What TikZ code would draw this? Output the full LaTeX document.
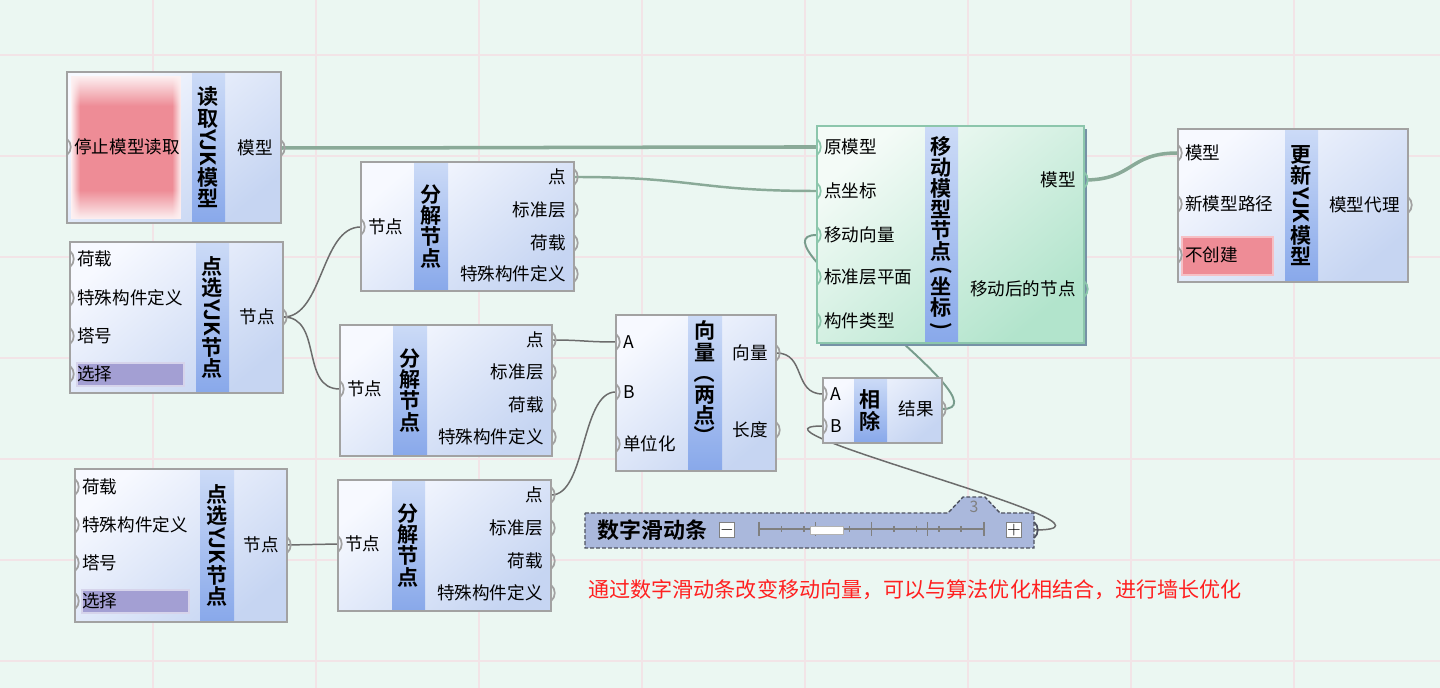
\documentclass[tikz,border=0pt]{standalone}
\usepackage{fontspec}
\setmainfont{Noto Sans CJK SC}[BoldFont={Noto Sans CJK SC Bold}]
\usepackage{graphicx}
\usetikzlibrary{fadings}

\definecolor{canvasc}{RGB}{235,247,242}
\definecolor{gridc}{RGB}{242,228,231}
\definecolor{boxln}{RGB}{162,162,162}
\definecolor{boxlt}{RGB}{247,249,255}
\definecolor{boxdk}{RGB}{198,213,242}
\definecolor{striptop}{RGB}{204,219,247}
\definecolor{stripbot}{RGB}{136,168,234}
\definecolor{grnln}{RGB}{140,198,172}
\definecolor{grnlt}{RGB}{244,251,247}
\definecolor{grndk}{RGB}{178,228,204}
\definecolor{grnshd}{RGB}{118,146,166}
\definecolor{btnred}{RGB}{238,140,150}
\definecolor{selfill}{RGB}{163,159,211}
\definecolor{wirec}{RGB}{108,108,108}
\definecolor{gwire}{RGB}{120,156,140}
\definecolor{modelw}{RGB}{138,170,152}
\definecolor{slfill}{RGB}{170,184,220}
\definecolor{slline}{RGB}{78,82,96}
\definecolor{notec}{RGB}{255,32,32}

\pgfdeclarelayer{bg}
\pgfdeclarelayer{wires}
\pgfsetlayers{bg,wires,main}

\tikzset{
  body/.style={top color=boxlt, bottom color=boxdk, shading angle=40},
  gbody/.style={top color=grnlt, bottom color=grndk, shading angle=40},
  strip/.style={top color=striptop, bottom color=stripbot},
  boxframe/.style={draw=boxln, line width=1.4pt},
  gframe/.style={draw=grnln, line width=1.4pt},
  grip/.style={draw=boxln, line width=1pt},
  socket/.style={inner sep=0pt, minimum size=0pt},
  plabel/.style={font=\fontsize{10}{12}\selectfont, inner sep=0pt},
  ttl/.style={font=\bfseries\fontsize{12}{12}\selectfont, align=center, inner sep=0pt},
  wire/.style={draw=wirec, line width=0.85pt},
  fatwire/.style={draw=modelw, line width=2pt},
  gridline/.style={draw=gridc, line width=0.7pt},
  glow/.style={fill=white!88!btnred},
  btn/.style={draw=btnred!55!white, line width=1pt, fill=btnred},
  selbox/.style={draw=selfill!45!white, line width=1pt, fill=selfill},
  sltick/.style={draw=gray, line width=0.6pt},
  slbtn/.style={draw=gray, fill=white, line width=0.6pt, minimum size=0.3cm, inner sep=0pt, font=\bfseries\fontsize{10}{10}\selectfont},
}

\newcommand\vrot[1]{\rotatebox[origin=c]{-90}{#1}}
% grips: name, x, y, text
\newcommand\inpin[4]{\node[socket] (#1) at (#2,#3) {};
  \draw[grip] (#2,#3-8) .. controls (#2+5,#3-4) and (#2+5,#3+4) .. (#2,#3+8);
  \node[plabel,anchor=west] (#1t) at (#2+7,#3) {#4};}
\newcommand\outpin[4]{\node[socket] (#1) at (#2,#3) {};
  \draw[grip] (#2,#3-8) .. controls (#2+5,#3-4) and (#2+5,#3+4) .. (#2,#3+8);
  \node[plabel,anchor=east] (#1t) at (#2-8,#3) {#4};}
% body: fill, frame, x1, y1, x2, y2, strip x1, strip x2
\newcommand\compbox[8]{\shade[#1] (#3,#4) rectangle (#5,#6);
  \shade[strip] (#7,#4) rectangle (#8,#6);
  \draw[#2] (#3,#4) rectangle (#5,#6);}

\begin{document}
\begin{tikzpicture}[x=0.02cm, y=-0.02cm]
\useasboundingbox (0,0) rectangle (1440,688);
\begin{pgfonlayer}{bg}
  \fill[canvasc] (0,0) rectangle (1440,688);
  \foreach \x in {-10,153,...,1457} \draw[gridline] (\x,0) -- (\x,688);
  \foreach \y in {55,156,...,661} \draw[gridline] (0,\y) -- (1440,\y);
\end{pgfonlayer}

% read model
\compbox{body}{boxframe}{67}{72}{281}{223}{192}{225}
\fill[btnred] (71,76) rectangle (181,219);
\fill[glow, path fading=south] (71,76) rectangle (181,106);
\fill[glow, path fading=north] (71,190) rectangle (181,219);
\fill[glow, path fading=east] (71,76) rectangle (80,219);
\fill[glow, path fading=west] (172,76) rectangle (181,219);
\node[ttl] (rd) at (208.5,147.5) {读\\取\\\vrot{YJK}\\模\\型};
\inpin{rdStop}{67}{147}{停止模型读取}
\outpin{rdM}{281}{148}{模型}

% pick nodes
\compbox{body}{boxframe}{70}{242}{283}{393}{196}{229}
\draw[selbox] (77,363) rectangle (184,386);
\node[ttl] (dx1) at (212.5,317.5) {点\\选\\\vrot{YJK}\\节\\点};
\foreach \y/\t/\n in {259/荷载/L, 298/特殊构件定义/D, 336/塔号/T, 374/选择/S}
  {\inpin{dx1\n}{70}{\y}{\t}}
\outpin{dx1N}{283}{317}{节点}

\compbox{body}{boxframe}{75}{469}{287}{622}{200}{234}
\draw[selbox] (82,590) rectangle (189,613);
\node[ttl] (dx2) at (217,545.5) {点\\选\\\vrot{YJK}\\节\\点};
\foreach \y/\t/\n in {487/荷载/L, 525/特殊构件定义/D, 563/塔号/T, 601/选择/S}
  {\inpin{dx2\n}{75}{\y}{\t}}
\outpin{dx2N}{287}{545}{节点}

% decompose nodes
\compbox{body}{boxframe}{361}{162}{574}{291}{414}{448}
\node[ttl] (fj1) at (431,226.5) {分\\解\\节\\点};
\inpin{fj1N}{361}{227}{节点}
\foreach \y/\t/\n in {177/点/P, 210/标准层/S, 243/荷载/L, 274/特殊构件定义/D}
  {\outpin{fj1\n}{574}{\y}{\t}}

\compbox{body}{boxframe}{340}{325}{552}{456}{393}{427}
\node[ttl] (fj2) at (410,390.5) {分\\解\\节\\点};
\inpin{fj2N}{340}{389}{节点}
\foreach \y/\t/\n in {340/点/P, 372/标准层/S, 405/荷载/L, 437/特殊构件定义/D}
  {\outpin{fj2\n}{552}{\y}{\t}}

\compbox{body}{boxframe}{338}{480}{551}{611}{392}{425}
\node[ttl] (fj3) at (408.5,545.5) {分\\解\\节\\点};
\inpin{fj3N}{338}{544}{节点}
\foreach \y/\t/\n in {495/点/P, 528/标准层/S, 561/荷载/L, 593/特殊构件定义/D}
  {\outpin{fj3\n}{551}{\y}{\t}}

% vector two points
\compbox{body}{boxframe}{616}{315}{776}{471}{688}{722}
\node[ttl] (vec) at (705,384) {向\\量\\\vrot{（}\\两\\点\\\vrot{）}};
\inpin{vecA}{616}{342}{A}
\inpin{vecB}{616}{392}{B}
\inpin{vecU}{616}{444}{单位化}
\outpin{vecV}{776}{353}{向量}
\outpin{vecL}{776}{430}{长度}

% divide
\compbox{body}{boxframe}{823}{378}{942}{443}{854}{887}
\node[ttl] (div) at (870.5,410.5) {相\\除};
\inpin{divA}{823}{394}{A}
\inpin{divB}{823}{426}{B}
\outpin{divR}{942}{409}{结果}

% move model nodes
\fill[grnshd] (820,129) rectangle (1087,346);
\compbox{gbody}{gframe}{817}{126}{1084}{343}{925}{958}
\node[ttl] (mv) at (941.5,235) {移\\动\\模\\型\\节\\点\\[-2pt]\vrot{(}\\[-2pt]坐\\标\\[-2pt]\vrot{)}};
\begin{scope}[grip/.style={draw=grnln, line width=1pt}]
\foreach \y/\t/\n in {147/原模型/A, 191/点坐标/B, 235/移动向量/C, 277/标准层平面/D, 321/构件类型/E}
  {\inpin{mv\n}{817}{\y}{\t}}
\outpin{mvM}{1084}{180}{模型}
\outpin{mvN}{1084}{289}{移动后的节点}
\end{scope}

% update model
\compbox{body}{boxframe}{1178}{129}{1408}{282}{1285}{1318}
\draw[btn] (1182,237) rectangle (1273,275);
\node[ttl] (up) at (1301.5,205.5) {更\\新\\\vrot{YJK}\\模\\型};
\inpin{upM}{1178}{153}{模型}
\inpin{upP}{1178}{204}{新模型路径}
\inpin{upC}{1178}{255}{不创建}
\outpin{upA}{1408}{205}{模型代理}

% number slider
\draw[fill=slfill, draw=slline, line width=0.8pt, dash pattern=on 2.2pt off 1.2pt]
  (585,513) -- (948,513) -- (963,497) -- (985,497) -- (1000,513) -- (1034,513)
  -- (1034,548) -- (585,548) -- cycle;
\node[font=\fontsize{9}{9}\selectfont, text=gray, inner sep=0pt] (slVal) at (974,507) {3};
\node[font=\bfseries\fontsize{12.5}{13}\selectfont, anchor=west, inner sep=0pt] (sl) at (597,530) {数字滑动条};
\node[slbtn] (slMinus) at (727,530) {$-$};
\node[slbtn] (slPlus) at (1014,530) {$+$};
\draw[sltick] (759,529) -- (984,529);
\foreach \x in {759,815.25,871.5,927.75,984} \draw[sltick] (\x,522) -- (\x,536);
\foreach \x in {781.7,804,826.7,849.3,894,916.7,939,961} \draw[sltick] (\x,526) -- (\x,532);
\node[draw=gray!60, fill=white, minimum width=0.66cm, minimum height=0.15cm, inner sep=0pt] (slKnob) at (826.5,530.5) {};
\node[socket] (slOut) at (1034,530) {};
\draw[grip, draw=slline] (1034,522) .. controls (1039,526) and (1039,534) .. (1034,538);

\node[font=\fontsize{12}{14}\selectfont, text=notec, anchor=west, inner sep=0pt] (note) at (588,590)
  {通过数字滑动条改变移动向量，可以与算法优化相结合，进行墙长优化};

% wires
\begin{pgfonlayer}{wires}
\draw[fatwire] (rdM) .. controls +(150,0) and +(-150,0) .. (mvA);
\draw[fatwire, line width=1.4pt] (fj1P) .. controls +(120,0) and +(-120,0) .. (mvB);
\draw[wire] (dx1N) .. controls +(40,0) and +(-40,0) .. (fj1N);
\draw[wire] (dx1N) .. controls +(40,0) and +(-40,0) .. (fj2N);
\draw[wire] (dx2N) -- (fj3N);
\draw[wire] (fj2P) .. controls +(30,0) and +(-30,0) .. (vecA);
\draw[wire] (fj3P) .. controls +(35,0) and +(-35,0) .. (vecB);
\draw[wire] (vecV) .. controls +(30,0) and +(-30,0) .. (divA);
\draw[wire, draw=gwire, line width=1.1pt] (divR) .. controls +(70,0) and +(-70,0) .. (mvC);
\draw[wire] (slOut) .. controls +(120,0) and +(-100,0) .. (divB);
\draw[fatwire] (mvM) .. controls +(50,0) and +(-50,0) .. (upM);
\end{pgfonlayer}
\end{tikzpicture}
\end{document}
